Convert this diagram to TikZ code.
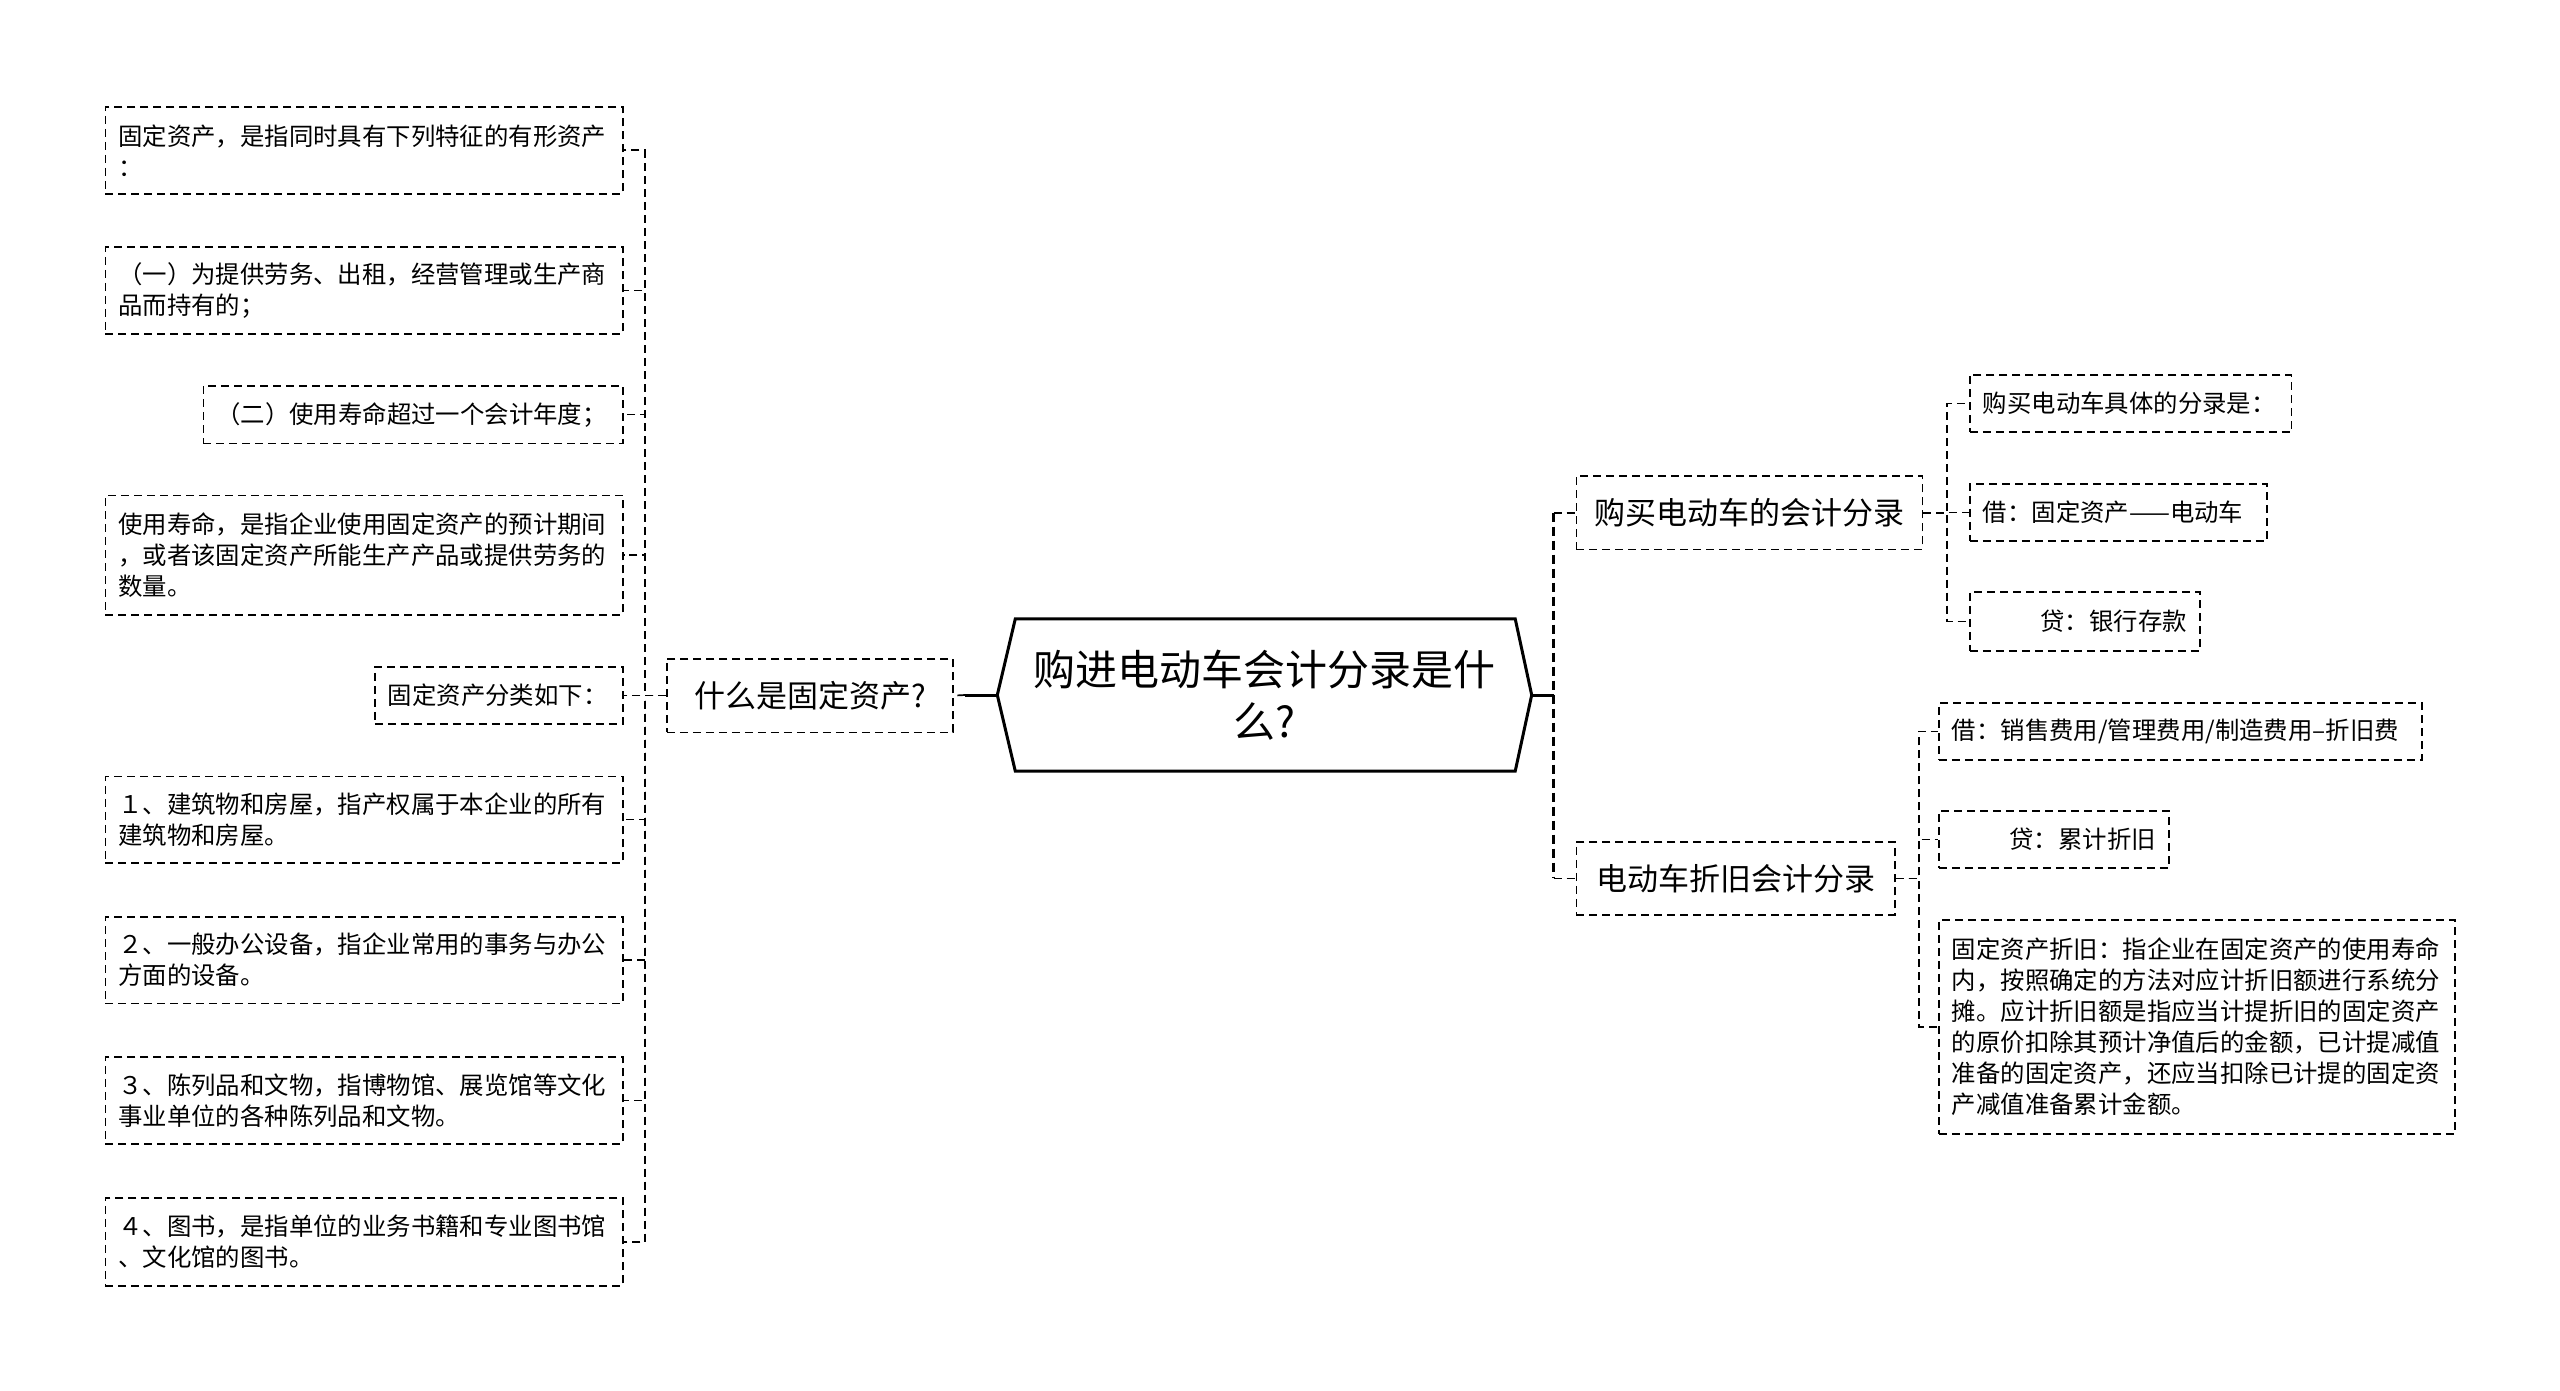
\documentclass[tikz,border=0pt]{standalone}
\usepackage{fontspec}
\setmainfont{Noto Sans CJK SC}
\tikzset{
  leaf/.style={draw, line width=1.7pt, dash pattern=on 8pt off 5pt, anchor=north west,
    inner xsep=13pt, inner ysep=0pt, align=left, font=\fontsize{24.4}{31}\selectfont},
  mid/.style={draw, line width=1.7pt, dash pattern=on 8pt off 5pt, anchor=north west,
    inner sep=0pt, align=center, font=\fontsize{31}{37}\selectfont},
  link/.style={line width=1.7pt, dash pattern=on 8pt off 5pt},
  trunk/.style={line width=2.8pt, dash pattern=on 9pt off 5pt},
  rootline/.style={line width=3pt, line join=miter},
}
\begin{document}
\begin{tikzpicture}[x=1pt,y=-1pt]
\useasboundingbox[fill=white] (0,0) rectangle (2560,1391);

% left leaves
\node[leaf, text width=491.5pt, minimum height=87pt] (n1) at (104.5,106) {固定资产，是指同时具有下列特征的有形资产\\：};
\node[leaf, text width=491.5pt, minimum height=86.5pt] (n2) at (104.5,246.5) {（一）为提供劳务、出租，经营管理或生产商\\品而持有的；};
\node[leaf, text width=393.5pt, minimum height=57.5pt] (n3) at (202.5,385) {（二）使用寿命超过一个会计年度；};
\node[leaf, text width=491.5pt, minimum height=119.3pt] (n4) at (104.5,494.7) {使用寿命，是指企业使用固定资产的预计期间\\，或者该固定资产所能生产产品或提供劳务的\\数量。};
\node[leaf, text width=222pt, minimum height=57pt] (n5) at (374,666) {固定资产分类如下：};
\node[leaf, text width=491.5pt, minimum height=86.5pt] (n6) at (104.5,775.5) {１、建筑物和房屋，指产权属于本企业的所有\\建筑物和房屋。};
\node[leaf, text width=491.5pt, minimum height=86.5pt] (n7) at (104.5,916) {２、一般办公设备，指企业常用的事务与办公\\方面的设备。};
\node[leaf, text width=491.5pt, minimum height=87pt] (n8) at (104.5,1056) {３、陈列品和文物，指博物馆、展览馆等文化\\事业单位的各种陈列品和文物。};
\node[leaf, text width=491.5pt, minimum height=88pt] (n9) at (104.5,1197) {４、图书，是指单位的业务书籍和专业图书馆\\、文化馆的图书。};

% middle
\node[mid, minimum width=286pt, minimum height=73.5pt] (w) at (666,658) {什么是固定资产?};
\node[mid, minimum width=346pt, minimum height=73.6pt] (a) at (1575.5,475) {购买电动车的会计分录};
\node[mid, minimum width=318.5pt, minimum height=73pt] (b) at (1575.5,841) {电动车折旧会计分录};

% root
\node[inner sep=0pt, minimum width=534pt, minimum height=152pt, align=center,
      font=\fontsize{42}{52}\selectfont] (root) at (1264.5,695) {购进电动车会计分录是什\\么?};
\draw[rootline] (root.west) -- ([xshift=18pt]root.north west) -- ([xshift=-16.5pt]root.north east)
  -- (root.east) -- ([xshift=-16.5pt]root.south east) -- ([xshift=18pt]root.south west) -- cycle;

% right leaves
\node[leaf, text width=295.7pt, minimum height=57pt] (c) at (1969,374) {购买电动车具体的分录是：};
\node[leaf, text width=271pt, minimum height=57pt] (d) at (1969,483) {借：固定资产——电动车};
\node[leaf, text width=204pt, minimum height=59pt, align=right] (e) at (1969,591) {贷：银行存款};
\node[leaf, text width=457pt, minimum height=57pt] (f) at (1938,702) {借：销售费用/管理费用/制造费用–折旧费};
\node[leaf, text width=204pt, minimum height=57pt, align=right] (g) at (1938,810) {贷：累计折旧};
\node[leaf, text width=490pt, minimum height=214pt] (h) at (1938,919) {固定资产折旧：指企业在固定资产的使用寿命\\内，按照确定的方法对应计折旧额进行系统分\\摊。应计折旧额是指应当计提折旧的固定资产\\的原价扣除其预计净值后的金额，已计提减值\\准备的固定资产，还应当扣除已计提的固定资\\产减值准备累计金额。};

% left connectors
\draw[rootline] (root.west) -- ++(-32,0) coordinate (lj);
\draw[link] (lj) -- (w.east);
\foreach \n in {n1,n2,n3,n4,n5,n6,n7,n8,n9}
  \draw[link] (w.west) -- ++(-21,0) |- (\n.east);

% right connectors
\draw[rootline] (root.east) -- ++(22,0) coordinate (rj);
\draw[trunk] (rj |- a.west) -- (rj |- b.west);
\draw[link] (rj |- a.west) -- (a.west);
\draw[link] (rj |- b.west) -- (b.west);
\foreach \n in {c,d,e}
  \draw[link] (a.east) -- ++(24,0) |- (\n.west);
\foreach \n in {f,g,h}
  \draw[link] (b.east) -- ++(23,0) |- (\n.west);
\end{tikzpicture}
\end{document}
